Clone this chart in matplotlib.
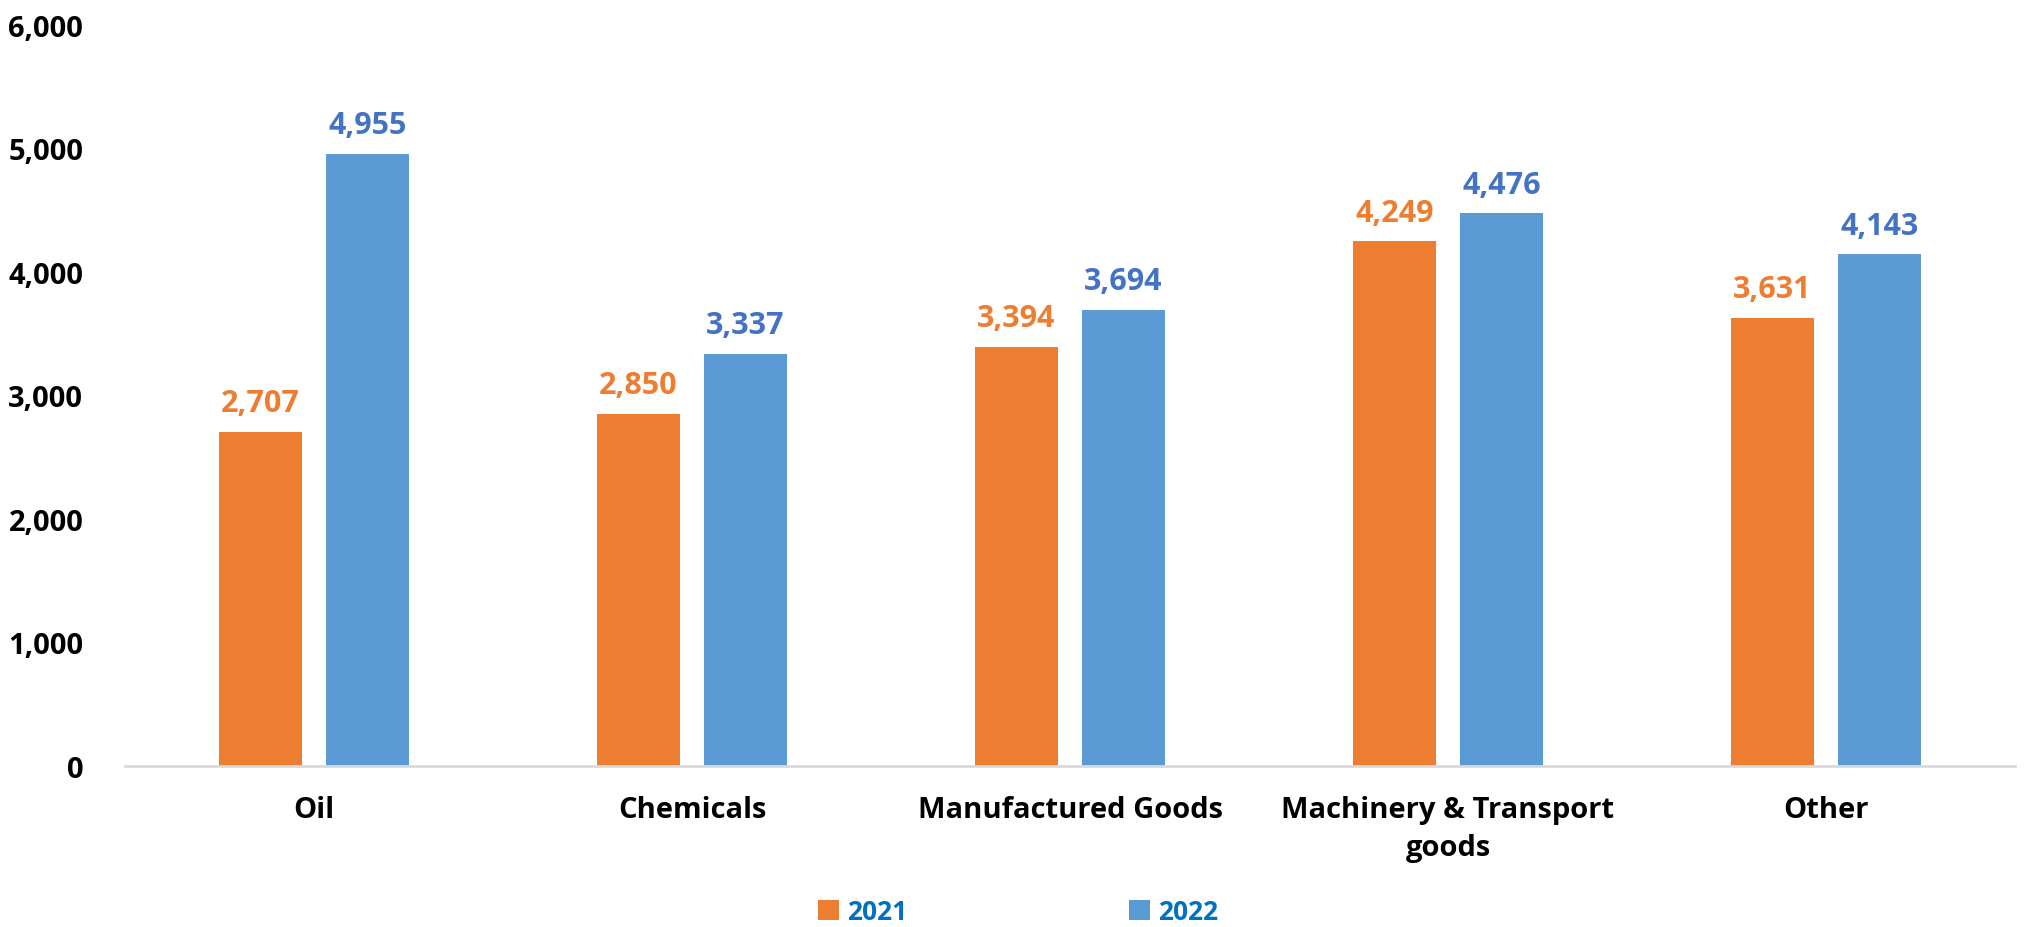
import numpy as np
import matplotlib.pyplot as plt
from matplotlib.ticker import FuncFormatter

categories = ['Oil', 'Chemicals', 'Manufactured Goods', 'Machinery & Transport\ngoods', 'Other']
values_2021 = [2707, 2850, 3394, 4249, 3631]
values_2022 = [4955, 3337, 3694, 4476, 4143]

orange = '#ED7D31'
blue = '#5B9BD5'
blue_text = '#4472C4'

plt.rcParams['font.family'] = ['Open Sans', 'DejaVu Sans']
plt.rcParams['font.weight'] = 'bold'

fig = plt.figure(figsize=(20.28, 9.28), dpi=100)
ax = fig.add_axes([125 / 2028, 1 - 767 / 928, (2015 - 125) / 2028, (767 - 26) / 928])

x = np.arange(len(categories))
w = 0.222
off = 0.1415
b1 = ax.bar(x - off, values_2021, w, color=orange, label='2021')
b2 = ax.bar(x + off, values_2022, w, color=blue, label='2022')

# value labels above each bar
for bars, col in ((b1, orange), (b2, blue_text)):
    for r in bars:
        ax.text(r.get_x() + r.get_width() / 2, r.get_height() + 110, f'{int(r.get_height()):,}',
                ha='center', va='bottom', fontsize=22, fontweight='bold', color=col)

ax.set_xlim(-0.5, len(categories) - 0.5)
ax.set_ylim(0, 6000)
ax.set_yticks(range(0, 6001, 1000))
ax.yaxis.set_major_formatter(FuncFormatter(lambda v, p: f'{int(v):,}'))
ax.set_xticks(x)
ax.set_xticklabels(categories, fontsize=21, fontweight='bold', linespacing=1.4)
ax.tick_params(axis='y', length=0, labelsize=21, pad=30)
ax.tick_params(axis='x', length=0, pad=21)
for s in ('top', 'right', 'left'):
    ax.spines[s].set_visible(False)
ax.spines['bottom'].set_color('#D9D9D9')
ax.spines['bottom'].set_linewidth(2)

leg = fig.legend(handles=[b1, b2], loc='center', bbox_to_anchor=(1018 / 2028, 1 - 913 / 928),
                 ncol=2, frameon=False, fontsize=19, handlelength=0.8, handleheight=0.8,
                 handletextpad=0.3, columnspacing=8.4)
for t in leg.get_texts():
    t.set_color('#0070C0')
    t.set_fontweight('bold')

fig.savefig('out.png', dpi=100)
